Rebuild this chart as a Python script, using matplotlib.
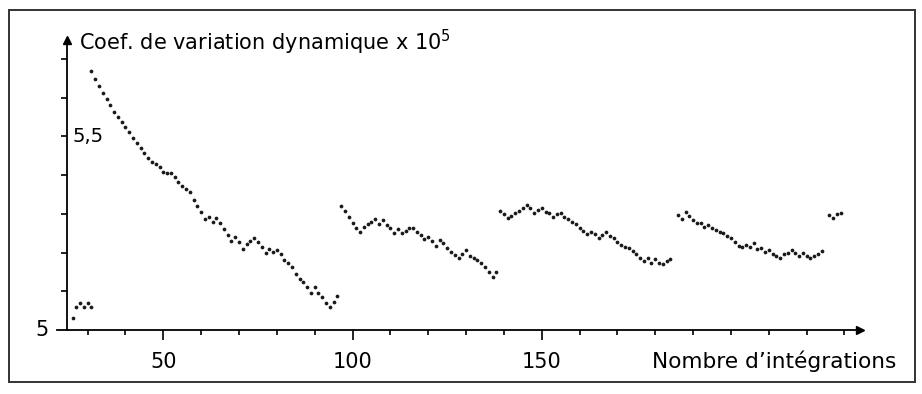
import numpy as np
import matplotlib.pyplot as plt
from matplotlib.patches import Rectangle

# ---------------------------
# Data
# ---------------------------
x_start = [26, 31, 97, 139, 186, 226]

seg0 = [5.030, 5.060, 5.070, 5.060, 5.070, 5.060]

seg1 = [5.669, 5.649, 5.629, 5.612, 5.597, 5.580, 5.564, 5.549, 5.538, 5.525,
        5.511, 5.495, 5.482, 5.470, 5.457, 5.444, 5.433, 5.430, 5.422, 5.407,
        5.406, 5.405, 5.396, 5.383, 5.373, 5.365, 5.357, 5.335, 5.319, 5.306,
        5.286, 5.293, 5.280, 5.290, 5.276, 5.260, 5.245, 5.230, 5.241, 5.227,
        5.210, 5.221, 5.231, 5.237, 5.227, 5.214, 5.198, 5.209, 5.202, 5.207,
        5.196, 5.181, 5.174, 5.162, 5.145, 5.131, 5.125, 5.110, 5.096, 5.110,
        5.096, 5.086, 5.071, 5.060, 5.073, 5.088]

seg2 = [5.320, 5.308, 5.291, 5.277, 5.264, 5.254, 5.265, 5.273, 5.280, 5.287,
        5.274, 5.283, 5.271, 5.263, 5.250, 5.261, 5.250, 5.256, 5.263, 5.263,
        5.254, 5.245, 5.235, 5.241, 5.231, 5.218, 5.233, 5.224, 5.213, 5.202,
        5.194, 5.185, 5.196, 5.207, 5.192, 5.185, 5.181, 5.172, 5.164, 5.149,
        5.137, 5.151]

seg3 = [5.307, 5.299, 5.289, 5.295, 5.301, 5.307, 5.316, 5.323, 5.314, 5.301,
        5.310, 5.314, 5.306, 5.301, 5.293, 5.299, 5.301, 5.293, 5.287, 5.280,
        5.273, 5.264, 5.256, 5.247, 5.254, 5.247, 5.237, 5.245, 5.252, 5.244,
        5.237, 5.228, 5.220, 5.215, 5.211, 5.204, 5.196, 5.187, 5.178, 5.185,
        5.172, 5.183, 5.172, 5.170, 5.177, 5.183]

seg4 = [5.297, 5.286, 5.306, 5.295, 5.283, 5.277, 5.277, 5.267, 5.271, 5.263,
        5.258, 5.254, 5.250, 5.243, 5.237, 5.228, 5.217, 5.215, 5.220, 5.215,
        5.224, 5.209, 5.211, 5.202, 5.207, 5.196, 5.191, 5.185, 5.196, 5.200,
        5.207, 5.198, 5.191, 5.198, 5.190, 5.185, 5.190, 5.196, 5.205]

seg5 = [5.297, 5.290, 5.300, 5.302]

segments = [seg0, seg1, seg2, seg3, seg4, seg5]

xticks_major = [50, 100, 150]
xticks_minor = [30, 40, 60, 70, 80, 90, 110, 120, 130, 140,
                160, 170, 180, 190, 200, 210, 220, 230]
yticks = [5.1, 5.2, 5.3, 5.4, 5.5, 5.6, 5.7]

# ---------------------------
# Figure
# ---------------------------
W, H = 922, 394
fig = plt.figure(figsize=(W / 100, H / 100), dpi=100)
fig.patch.set_facecolor('white')

ax = fig.add_axes([57 / W, 1 - 330 / H, (860 - 57) / W, (330 - 40) / H])
ax.set_xlim(21.9, 234.1)
ax.set_ylim(5.0, 5.749)
ax.patch.set_alpha(0)

for start, seg in zip(x_start, segments):
    xs = np.arange(start, start + len(seg))
    ax.plot(xs, seg, 'o', color='#1a1a1a', ms=2.7, mec='none')

# axes as drawn by hand: two lines with arrow heads
ax.spines['top'].set_visible(False)
ax.spines['right'].set_visible(False)
ax.spines['left'].set_position(('data', 24.5))
ax.spines['left'].set_linewidth(1.3)
ax.spines['bottom'].set_linewidth(1.3)
ax.plot(24.5, 5.749, marker='^', ms=6, color='k', clip_on=False)
ax.plot(234.1, 5.0, marker='>', ms=6, color='k', clip_on=False)

ax.set_xticks(xticks_major)
ax.set_xticklabels([str(v) for v in xticks_major], fontsize=15)
ax.set_xticks(xticks_minor, minor=True)
ax.tick_params(axis='x', which='major', direction='out', length=7, width=1.2, pad=9)
ax.tick_params(axis='x', which='minor', direction='out', length=3.6, width=1.2)

ax.set_yticks(yticks)
ax.set_yticklabels([])
ax.tick_params(axis='y', direction='out', length=4.3, width=1.2)

# labels
ax.text(26.0, 5.5, '5,5', fontsize=14, va='center', ha='left')
ax.text(19.8, 5.0, '5', fontsize=15, va='center', ha='right', clip_on=False)
fig.text(79 / W, 1 - 50 / H, 'Coef. de variation dynamique x 10$^5$', fontsize=15,
         va='baseline', ha='left')
fig.text(652 / W, 1 - 368 / H, 'Nombre d\u2019int\u00e9grations', fontsize=15.6,
         va='baseline', ha='left')

# frame round the figure
fig.patches.append(Rectangle((9 / W, 1 - 382 / H), (915 - 9) / W, (382 - 10) / H,
                             transform=fig.transFigure, fill=False,
                             ec='#333333', lw=1.4))

plt.savefig('out.png', dpi=100)
